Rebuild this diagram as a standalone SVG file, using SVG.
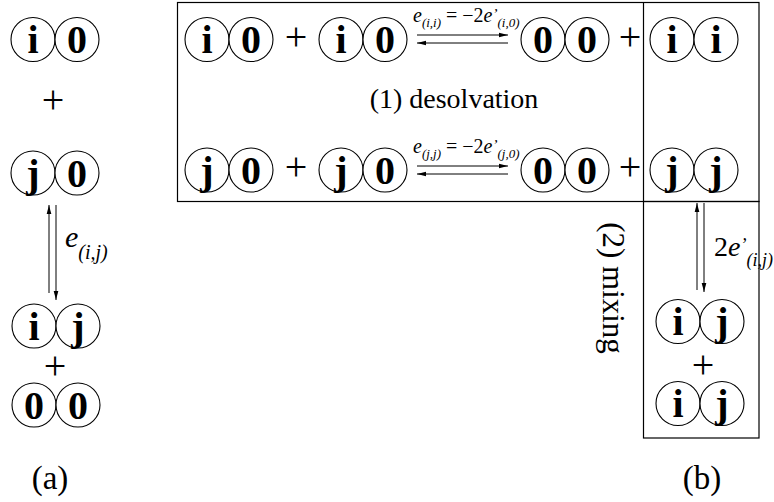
<svg xmlns="http://www.w3.org/2000/svg" width="774" height="502" viewBox="0 0 774 502">
<style>
  .c { fill: #fff; stroke: #000; stroke-width: 1.1; }
  .b { font-family: "Liberation Serif", "Times New Roman", serif; font-weight: bold; font-size: 40px; text-anchor: middle; fill: #000; }
  .p { font-family: "Liberation Serif", "Times New Roman", serif; font-size: 40px; text-anchor: middle; fill: #000; }
  .t { font-family: "Liberation Serif", "Times New Roman", serif; font-size: 28px; fill: #000; }
  .tl { font-family: "Liberation Serif", "Times New Roman", serif; font-size: 33px; text-anchor: middle; fill: #000; }
  .tm { font-family: "Liberation Serif", "Times New Roman", serif; font-size: 31px; text-anchor: middle; fill: #000; }
  .it { font-family: "Liberation Serif", "Times New Roman", serif; font-style: italic; fill: #000; }
  .rm { font-family: "Liberation Serif", "Times New Roman", serif; fill: #000; }
  .box { fill: none; stroke: #000; stroke-width: 1.2; }
  .ar { fill: none; stroke: #000; stroke-width: 1; }
</style>
<defs>
  <marker id="ah" markerUnits="userSpaceOnUse" markerWidth="10" markerHeight="6" refX="9" refY="3" orient="auto">
    <path d="M0,0.7 L9,3 L0,5.3 Z" fill="#000"/>
  </marker>
</defs>

<!-- (a) left column -->
<g id="a-i0">
  <circle class="c" cx="33" cy="39.5" r="22"/><circle class="c" cx="77" cy="39.5" r="22"/>
  <text class="b" x="33" y="53">i</text><text class="b" x="77" y="53">0</text>
</g>
<g id="a-plus1"><text class="p" x="53" y="113">+</text></g>
<g id="a-j0">
  <circle class="c" cx="33" cy="173" r="22"/><circle class="c" cx="77" cy="173" r="22"/>
  <text class="b" x="33" y="186.5">j</text><text class="b" x="77" y="186.5">0</text>
</g>
<g id="a-ij">
  <circle class="c" cx="34" cy="326" r="22"/><circle class="c" cx="78" cy="326" r="22"/>
  <text class="b" x="34" y="339.5">i</text><text class="b" x="78" y="339.5">j</text>
</g>
<g id="a-plus2"><text class="p" x="55" y="379">+</text></g>
<g id="a-00">
  <circle class="c" cx="34" cy="405" r="22"/><circle class="c" cx="78" cy="405" r="22"/>
  <text class="b" x="34" y="418.5">0</text><text class="b" x="78" y="418.5">0</text>
</g>
<g id="a-label">
  <text class="tl" x="50" y="489">(a)</text>
</g>

<!-- (b) desolvation box -->
<g id="box-desolvation">
  <rect class="box" x="177.5" y="2.5" width="581.5" height="199"/>
  <line class="box" x1="643.5" y1="2.5" x2="643.5" y2="201.5"/>
  <text class="t" x="454" y="108" text-anchor="middle">(1) desolvation</text>
</g>
<g id="r1-i0a">
  <circle class="c" cx="207" cy="39.5" r="22"/><circle class="c" cx="251" cy="39.5" r="22"/>
  <text class="b" x="207" y="53">i</text><text class="b" x="251" y="53">0</text>
</g>
<g id="r1-plus1"><text class="p" x="296" y="49.5">+</text></g>
<g id="r1-i0b">
  <circle class="c" cx="341" cy="39.5" r="22"/><circle class="c" cx="385" cy="39.5" r="22"/>
  <text class="b" x="341" y="53">i</text><text class="b" x="385" y="53">0</text>
</g>
<g id="r1-00">
  <circle class="c" cx="543" cy="39.5" r="22"/><circle class="c" cx="587" cy="39.5" r="22"/>
  <text class="b" x="543" y="53">0</text><text class="b" x="587" y="53">0</text>
</g>
<g id="r1-plus2"><text class="p" x="630" y="49.5">+</text></g>
<g id="r1-ii">
  <circle class="c" cx="672" cy="39.5" r="22"/><circle class="c" cx="716" cy="39.5" r="22"/>
  <text class="b" x="672" y="53">i</text><text class="b" x="716" y="53">i</text>
</g>

<g id="r2-j0a">
  <circle class="c" cx="207" cy="170" r="22"/><circle class="c" cx="251" cy="170" r="22"/>
  <text class="b" x="207" y="183.5">j</text><text class="b" x="251" y="183.5">0</text>
</g>
<g id="r2-plus1"><text class="p" x="296" y="180">+</text></g>
<g id="r2-j0b">
  <circle class="c" cx="341" cy="170" r="22"/><circle class="c" cx="385" cy="170" r="22"/>
  <text class="b" x="341" y="183.5">j</text><text class="b" x="385" y="183.5">0</text>
</g>
<g id="r2-00">
  <circle class="c" cx="543" cy="170" r="22"/><circle class="c" cx="587" cy="170" r="22"/>
  <text class="b" x="543" y="183.5">0</text><text class="b" x="587" y="183.5">0</text>
</g>
<g id="r2-plus2"><text class="p" x="630" y="180">+</text></g>
<g id="r2-jj">
  <circle class="c" cx="672" cy="170" r="22"/><circle class="c" cx="716" cy="170" r="22"/>
  <text class="b" x="672" y="183.5">j</text><text class="b" x="716" y="183.5">j</text>
</g>

<!-- (b) mixing box -->
<g id="box-mixing">
  <rect class="box" x="643.5" y="201.5" width="115.5" height="236.5"/>
  <text class="tm" transform="translate(603,288) rotate(90)">(2) mixing</text>
</g>
<g id="m-ij1">
  <circle class="c" cx="678" cy="321.5" r="22"/><circle class="c" cx="722" cy="321.5" r="22"/>
  <text class="b" x="678" y="335">i</text><text class="b" x="722" y="335">j</text>
</g>
<g id="m-plus"><text class="p" x="703" y="378">+</text></g>
<g id="m-ij2">
  <circle class="c" cx="678" cy="403.5" r="22"/><circle class="c" cx="722" cy="403.5" r="22"/>
  <text class="b" x="678" y="417">i</text><text class="b" x="722" y="417">j</text>
</g>
<g id="b-label">
  <text class="tl" x="702" y="489">(b)</text>
</g>

<!-- connectors -->
<g id="connectors">
  <line class="ar" x1="49" y1="293" x2="49" y2="205" marker-end="url(#ah)"/>
  <line class="ar" x1="56" y1="205" x2="56" y2="300" marker-end="url(#ah)"/>
  <text class="it" x="65" y="247" font-size="30">e<tspan font-size="20" dy="12">(i,j)</tspan></text>

  <line class="ar" x1="417" y1="35" x2="508" y2="35" marker-end="url(#ah)"/>
  <line class="ar" x1="508" y1="43" x2="417" y2="43" marker-end="url(#ah)"/>
  <text class="it" x="413" y="22" font-size="20">e<tspan font-size="13" dy="5">(i,i)</tspan><tspan font-style="normal" dy="-5"> = −2</tspan>e<tspan font-size="15" dy="-3">’</tspan><tspan font-size="13" dy="8">(i,0)</tspan></text>

  <line class="ar" x1="417" y1="166" x2="508" y2="166" marker-end="url(#ah)"/>
  <line class="ar" x1="508" y1="174" x2="417" y2="174" marker-end="url(#ah)"/>
  <text class="it" x="413" y="153" font-size="20">e<tspan font-size="13" dy="5">(j,j)</tspan><tspan font-style="normal" dy="-5"> = −2</tspan>e<tspan font-size="15" dy="-3">’</tspan><tspan font-size="13" dy="8">(j,0)</tspan></text>

  <line class="ar" x1="697" y1="290" x2="697" y2="203" marker-end="url(#ah)"/>
  <line class="ar" x1="704" y1="203" x2="704" y2="292" marker-end="url(#ah)"/>
  <text class="rm" x="714" y="256" font-size="28">2<tspan font-style="italic">e</tspan><tspan font-style="italic" font-size="18" dy="-5">’</tspan><tspan font-style="italic" font-size="18" dy="15">(i,j)</tspan></text>
</g>
</svg>
